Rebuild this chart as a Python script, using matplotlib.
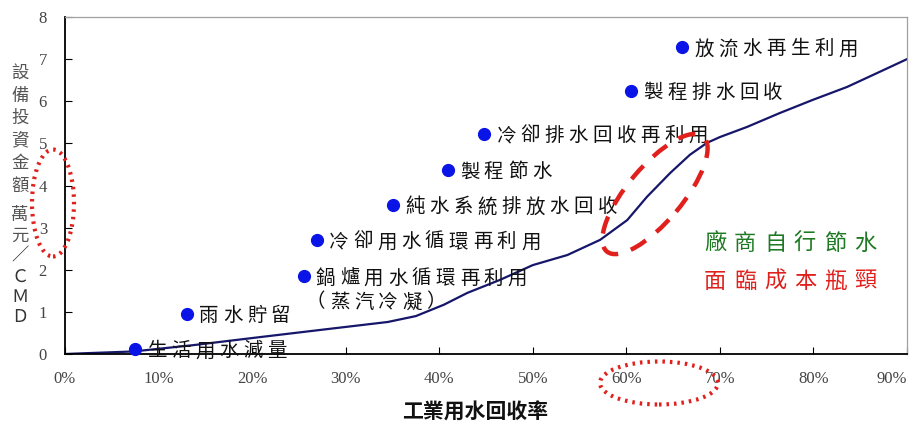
import numpy as np
import matplotlib
matplotlib.use('Agg')
import matplotlib.pyplot as plt
from matplotlib.patches import Ellipse

plt.rcParams['font.family'] = ['Noto Sans CJK TC', 'DejaVu Sans']

# recovery curve
curve_x = [0.0, 0.0235, 0.073, 0.137, 0.208, 0.280, 0.345, 0.375, 0.405, 0.430, 0.465,
           0.500, 0.537, 0.572, 0.601, 0.622, 0.647, 0.668, 0.686, 0.700, 0.729,
           0.764, 0.799, 0.836, 0.871, 0.9]
curve_y = [0.0, 0.02, 0.06, 0.21, 0.40, 0.59, 0.76, 0.90, 1.17, 1.45, 1.76,
           2.11, 2.35, 2.71, 3.18, 3.73, 4.30, 4.73, 5.01, 5.15, 5.39,
           5.72, 6.03, 6.34, 6.70, 7.0]

# measures
names = ['生活用水減量', '雨水貯留', '鍋爐用水循環再利用', '冷卻用水循環再利用',
         '純水系統排放水回收', '製程節水', '冷卻排水回收再利用', '製程排水回收', '放流水再生利用']
pt_x = [0.075, 0.130, 0.255, 0.269, 0.351, 0.409, 0.448, 0.605, 0.660]
pt_y = [0.12, 0.95, 1.85, 2.71, 3.54, 4.37, 5.23, 6.25, 7.29]
sub_note = '（蒸汽冷凝）'

x_ticks = [0, 0.1, 0.2, 0.3, 0.4, 0.5, 0.6, 0.7, 0.8, 0.9]
y_ticks = [0, 1, 2, 3, 4, 5, 6, 7, 8]

W, H = 911, 430
fig = plt.figure(figsize=(W / 100, H / 100), dpi=100)
ax = fig.add_axes([65 / W, 76 / H, 842 / W, 337 / H])


def fx(px):
    return px / W


def fy(py):
    return 1 - py / H


ax.plot(curve_x, curve_y, color='#16166a', lw=1.6, zorder=2)
ax.plot(pt_x, pt_y, 'o', color='#0a14e6', ms=8.5, zorder=3, clip_on=False)


def spaced(xy, s, dx, dy, step, **kw):
    for i, ch in enumerate(s):
        ax.annotate(ch, xy=xy, xytext=(dx + i * step, dy), textcoords='offset pixels',
                    ha='center', va='center', annotation_clip=False, **kw)


for n, x, y in zip(names, pt_x, pt_y):
    spaced((x, y), n, 22, -2, 24, fontsize=14, color='#111111')
spaced((pt_x[2], pt_y[2]), sub_note, 12, -26, 24, fontsize=14, color='#111111')

ax.set_xlim(0, 0.9)
ax.set_ylim(0, 8)
ax.set_xticks(x_ticks)
ax.set_xticklabels([f'{int(round(t * 100))}%' for t in x_ticks])
ax.set_yticks(y_ticks)
for lab in ax.get_xticklabels() + ax.get_yticklabels():
    lab.set_fontfamily('Liberation Serif')
    lab.set_fontsize(12)
    lab.set_color('#444444')
ax.get_xticklabels()[-1].set_ha('right')
ax.tick_params(direction='in', length=5, width=0.8, pad=12)
ax.tick_params(axis='y', pad=13)
for s in ['left', 'bottom']:
    ax.spines[s].set_color('black')
    ax.spines[s].set_linewidth(1.3)
for s in ['top', 'right']:
    ax.spines[s].set_color('#a0a0a0')
    ax.spines[s].set_linewidth(0.9)

# x label
fig.text(fx(475), fy(412), '工業用水回收率', ha='center', va='center',
         fontsize=15, fontweight='bold', color='#111111')

# y label stacked vertically
for i, ch in enumerate('設備投資金額'):
    fig.text(fx(20), fy(73 + i * 22.5), ch, ha='center', va='center',
             fontsize=12.5, color='#555555')
for i, ch in enumerate('萬元／ＣＭＤ'):
    fig.text(fx(20), fy(215 + i * 20.5), ch, ha='center', va='center',
             fontsize=12.5, color='#333333' if i > 1 else '#555555')

# annotation text
for i, ch in enumerate('廠商自行節水'):
    fig.text(fx(715 + i * 30), fy(243), ch, ha='center', va='center',
             fontsize=16, color='#1e7a22')
for i, ch in enumerate('面臨成本瓶頸'):
    fig.text(fx(715 + i * 30), fy(281), ch, ha='center', va='center',
             fontsize=16, color='#e0201c')

# highlight ellipses (pixel placement in inches)
tr = fig.dpi_scale_trans
fig.patches.append(Ellipse((53 / 100, (H - 203) / 100), 0.42, 1.07, transform=tr,
                           fill=False, ec='#e0201c', lw=3, ls=(0, (0.6, 1.2))))
fig.patches.append(Ellipse((659 / 100, (H - 383) / 100), 1.18, 0.43, transform=tr,
                           fill=False, ec='#e0201c', lw=3, ls=(0, (0.6, 1.2))))
fig.patches.append(Ellipse((655 / 100, (H - 194) / 100), 1.50, 0.55, angle=50, transform=tr,
                           fill=False, ec='#e0201c', lw=3.2, ls=(0, (4, 3))))

fig.savefig('out.png', dpi=100)
